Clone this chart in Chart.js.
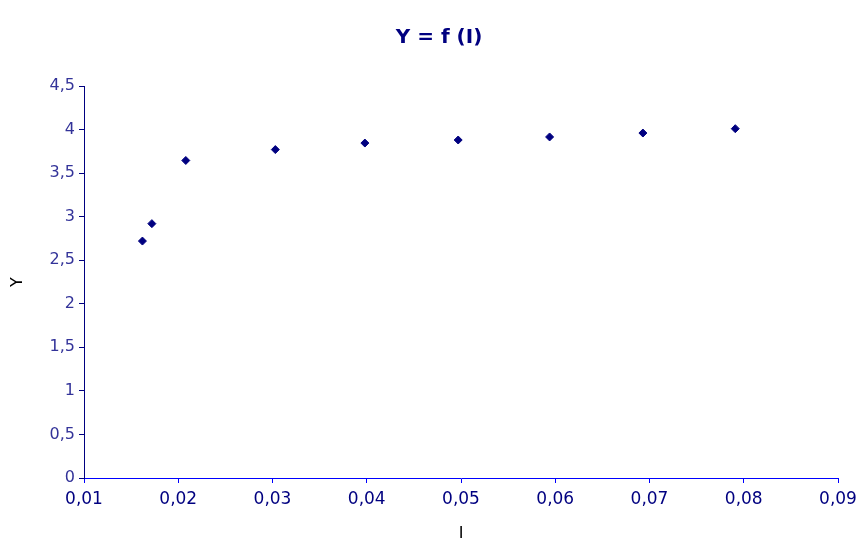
<!DOCTYPE html>
<html>
<head>
<meta charset="utf-8">
<script src="https://cdn.jsdelivr.net/npm/chart.js@4/dist/chart.umd.min.js"></script>
<style>
  html, body { margin: 0; padding: 0; background: #fff; }
  canvas { display: block; }
</style>
</head>
<body>
<canvas id="chart" width="866" height="548"></canvas>
<script>
const xValues = [0.0162, 0.0172, 0.0208, 0.0303, 0.0398, 0.0497, 0.0594, 0.0693, 0.0791];
const yValues = [2.72, 2.92, 3.645, 3.77, 3.845, 3.88, 3.915, 3.96, 4.01];
const chartTitle = 'Y = f (I)';
const xTitle = 'I';
const yTitle = 'Y';

const points = xValues.map((x, i) => ({ x: x, y: yValues[i] }));
const fmt = (v) => (Math.round(v * 100) / 100).toString().replace('.', ',');

const ctx = document.getElementById('chart').getContext('2d');
const myChart = new Chart(ctx, {
    type: 'scatter',
    data: {
        datasets: [{
            label: 'Y',
            data: points,
            pointStyle: 'rectRot',
            pointRadius: 4,
            backgroundColor: '#000080',
            borderColor: '#000080',
            borderWidth: 1
        }]
    },
    options: {
        responsive: false,
        animation: false,
        // left padding shifts the title to the right like in the original
        layout: { padding: { left: 12, right: 0, top: 0, bottom: 0 } },
        plugins: {
            legend: { display: false },
            tooltip: { enabled: false },
            title: {
                display: true,
                text: chartTitle,
                color: '#000080',
                font: { family: 'DejaVu Sans', size: 20, weight: 'bold' },
                padding: { top: 26, bottom: 36 }
            }
        },
        scales: {
            x: {
                type: 'linear',
                min: 0.01,
                max: 0.09,
                ticks: {
                    stepSize: 0.01,
                    color: '#000080',
                    font: { family: 'DejaVu Sans', size: 17 },
                    padding: 6,
                    maxRotation: 0,
                    callback: (v) => fmt(v)
                },
                grid: { drawOnChartArea: false, drawTicks: true, tickLength: 5, color: '#0000ff' },
                border: { color: '#0000ff', width: 1 },
                title: {
                    display: true,
                    text: xTitle,
                    color: '#000000',
                    font: { family: 'DejaVu Sans', size: 16 },
                    padding: { top: 0, bottom: 5 }
                },
                afterFit: (scale) => {
                    scale.height = 70;
                    scale.paddingRight = 28;
                }
            },
            y: {
                min: 0,
                max: 4.5,
                ticks: {
                    stepSize: 0.5,
                    color: '#333399',
                    font: { family: 'DejaVu Sans', size: 16 },
                    padding: 4,
                    callback: (v) => fmt(v)
                },
                grid: { drawOnChartArea: false, drawTicks: true, tickLength: 5, color: '#000080' },
                border: { color: '#000080', width: 1 },
                title: {
                    display: true,
                    text: yTitle,
                    color: '#000000',
                    font: { family: 'DejaVu Sans', size: 16 },
                    padding: { top: -4, bottom: 0 }
                },
                afterFit: (scale) => { scale.width = 72; }
            }
        }
    }
});
</script>
</body>
</html>
